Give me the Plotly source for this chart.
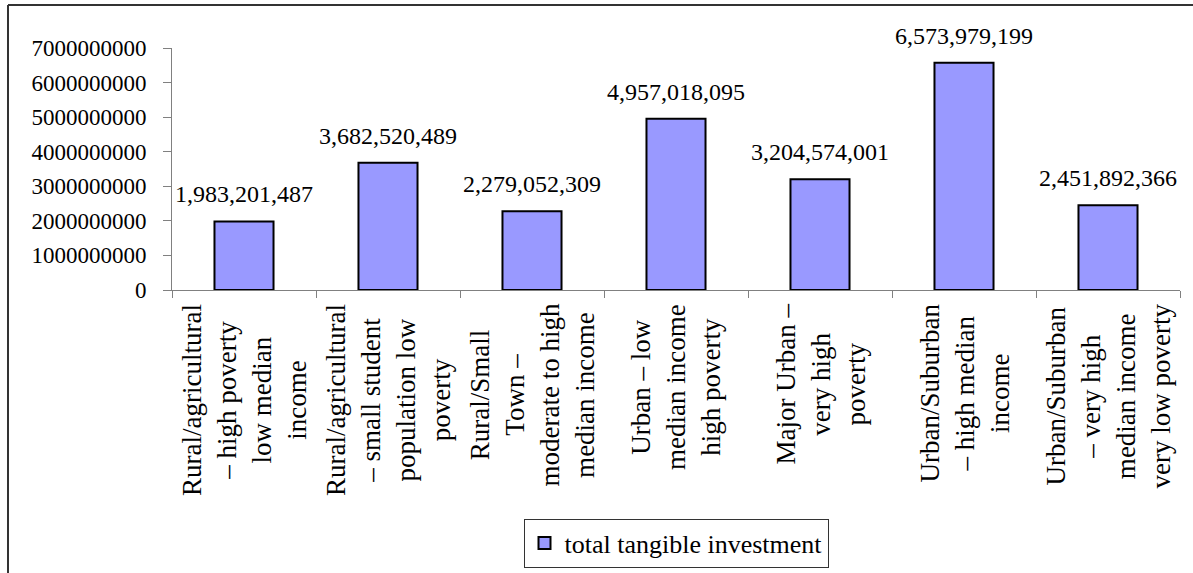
import plotly.graph_objects as go

# Category labels (line breaks as printed under each bar)
categories = [
    "Rural/agricultural<br>– high poverty<br>low median<br>income",
    "Rural/agricultural<br>– small student<br>population low<br>poverty",
    "Rural/Small<br>Town –<br>moderate to high<br>median income",
    "Urban – low<br>median income<br>high poverty",
    "Major Urban –<br>very high<br>poverty",
    "Urban/Suburban<br>– high median<br>income",
    "Urban/Suburban<br>– very high<br>median income<br>very low poverty",
]
investment = [
    1983201487,
    3682520489,
    2279052309,
    4957018095,
    3204574001,
    6573979199,
    2451892366,
]
series_name = "total tangible investment"
y_ticks = [0, 1000000000, 2000000000, 3000000000, 4000000000,
           5000000000, 6000000000, 7000000000]

FONT = "Liberation Serif, Times New Roman, serif"
xs = list(range(len(categories)))

fig = go.Figure()
fig.add_trace(go.Bar(
    x=xs,
    y=investment,
    name=series_name,
    width=0.41,
    marker=dict(color="#9999FF", line=dict(color="#000000", width=2)),
    showlegend=True,
))

# Value labels above each bar
for i, v in enumerate(investment):
    fig.add_annotation(
        x=i, y=v, xref="x", yref="y",
        text=f"{v:,}", showarrow=False,
        xanchor="center", yanchor="bottom", yshift=12,
        font=dict(family=FONT, size=24, color="#000000"),
    )

# Category labels, rotated and centred under each bar
for i, lab in enumerate(categories):
    fig.add_annotation(
        x=i, y=0, xref="x", yref="paper",
        text=lab, textangle=-90,
        xanchor="center", yanchor="top", align="center",
        yshift=-12, showarrow=False,
        font=dict(family=FONT, size=27, color="#000000"),
    )

# Outer chart frame (top and left edges)
fig.add_shape(type="line", xref="paper", yref="paper",
              x0=-0.1627, x1=1.05, y0=1.1777, y1=1.1777,
              line=dict(color="#333333", width=2))
fig.add_shape(type="line", xref="paper", yref="paper",
              x0=-0.1627, x1=-0.1627, y0=1.1777, y1=-1.3,
              line=dict(color="#333333", width=2))

fig.update_layout(
    width=1193, height=573,
    margin=dict(l=172, r=13, t=48, b=283, autoexpand=False),
    plot_bgcolor="white", paper_bgcolor="white",
    font=dict(family=FONT, color="#000000"),
    xaxis=dict(
        range=[-0.5, len(categories) - 0.5],
        tickvals=[i - 0.5 for i in range(len(categories) + 1)],
        ticktext=[""] * (len(categories) + 1),
        ticks="outside", ticklen=7, tickcolor="#808080", tickwidth=1,
        showline=True, linecolor="#808080", linewidth=1,
        showgrid=False, zeroline=False, fixedrange=True,
    ),
    yaxis=dict(
        range=[0, 7000000000],
        tickvals=y_ticks,
        ticktext=[str(v) for v in y_ticks],
        ticks="outside", ticklen=8, tickcolor="#808080", tickwidth=1,
        ticklabelstandoff=12,
        showline=True, linecolor="#808080", linewidth=1,
        showgrid=False, zeroline=False,
        tickfont=dict(family=FONT, size=23, color="#000000"),
    ),
    legend=dict(
        orientation="h",
        x=0.5, xanchor="center",
        y=-0.945, yanchor="top",
        bordercolor="#333333", borderwidth=1,
        bgcolor="white",
        font=dict(family=FONT, size=26, color="#000000"),
    ),
)

fig.write_html("out.html")
